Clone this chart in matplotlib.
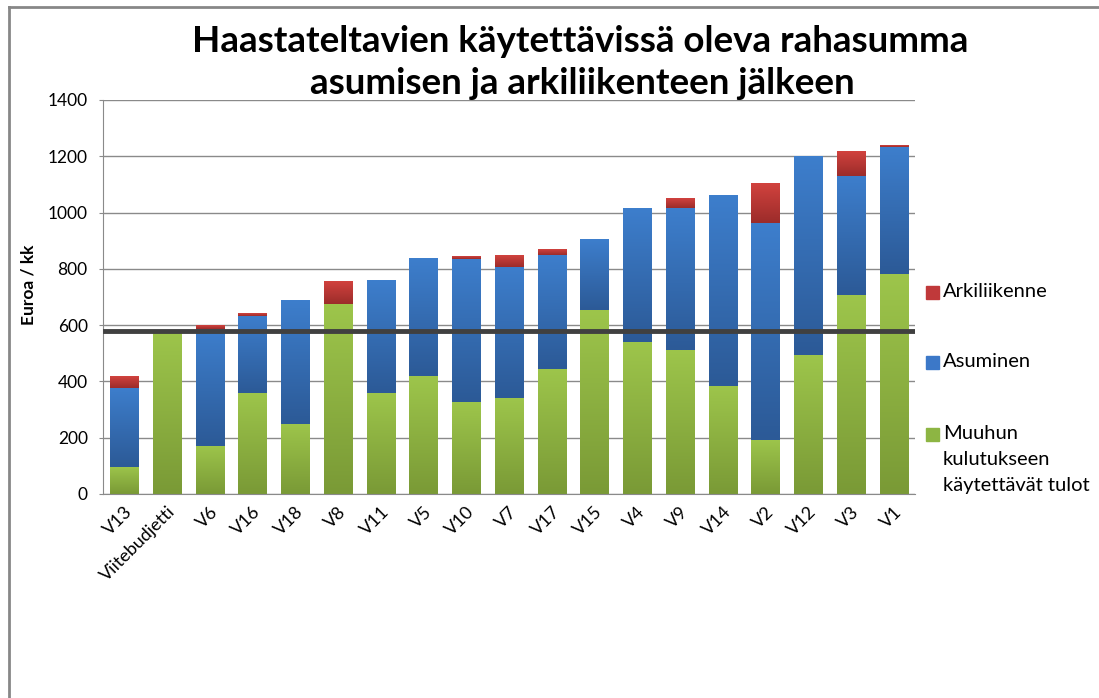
import numpy as np
import matplotlib
matplotlib.use("Agg")
import matplotlib.pyplot as plt
from matplotlib.colors import LinearSegmentedColormap
from matplotlib.lines import Line2D
from matplotlib.patches import Rectangle

plt.rcParams['font.family'] = ['Lato', 'DejaVu Sans']

# data (euroa / kk)
categories = ['V13', 'Viitebudjetti', 'V6', 'V16', 'V18', 'V8', 'V11', 'V5', 'V10', 'V7',
              'V17', 'V15', 'V4', 'V9', 'V14', 'V2', 'V12', 'V3', 'V1']
muu = [96, 577, 171, 359, 249, 674, 359, 419, 326, 340, 445, 655, 540, 512, 385, 192, 493, 707, 782]
asuminen = [282, 0, 415, 275, 439, 0, 400, 417, 510, 467, 403, 252, 475, 503, 678, 771, 706, 423, 450]
arkiliikenne = [41, 0, 13, 8, 0, 81, 0, 0, 10, 42, 18, 0, 0, 33, 0, 140, 0, 88, 5]
viitebudjetti = 580

series = [
    ('Muuhun\nkulutukseen\nkäytettävät tulot', muu, '#7a9a36', '#9dc54b', '#8db543'),
    ('Asuminen', asuminen, '#2c5a97', '#3d7ecc', '#3c78c8'),
    ('Arkiliikenne', arkiliikenne, '#9c2c2a', '#d1423e', '#c0393a'),
]

fig = plt.figure(figsize=(10.99, 6.98), dpi=100)
ax = fig.add_axes([103/1099, 1-494/698, (915-103)/1099, (494-100)/698])

x = np.arange(len(categories))
w = 0.66
grad = np.linspace(0, 1, 64).reshape(-1, 1)
bottom = np.zeros(len(categories))
for label, vals, dark, light, _ in series:
    cmap = LinearSegmentedColormap.from_list(label, [dark, light])
    vals = np.array(vals, dtype=float)
    for xi, b, v in zip(x, bottom, vals):
        if v <= 0:
            continue
        ax.imshow(grad, extent=[xi - w/2, xi + w/2, b, b + v], origin='lower',
                  aspect='auto', cmap=cmap, zorder=2, interpolation='bilinear')
    bottom += vals

ax.axhline(viitebudjetti, xmin=0.003, xmax=1, color='#404040', lw=3.5, zorder=4)

ax.set_xlim(-0.5, len(categories) - 0.5)
ax.set_ylim(0, 1400)
ax.set_yticks(range(0, 1401, 200))
ax.yaxis.grid(True, color='#8a8a8a', lw=1)
ax.set_axisbelow(True)
for s in ['top', 'right']:
    ax.spines[s].set_visible(False)
for s in ['left', 'bottom']:
    ax.spines[s].set_color('#8a8a8a')
ax.tick_params(axis='y', length=3, color='#8a8a8a', labelsize=12.5, pad=8)
ax.tick_params(axis='x', length=0, labelsize=13, pad=7)
ax.set_xticks(x)
ax.set_xticklabels(categories, rotation=45, ha='right', rotation_mode='anchor')
ax.set_ylabel('Euroa / kk', fontsize=12.5, fontweight='bold')
ax.yaxis.set_label_coords(-0.082, 0.53)

fig.text(580/1099, 1-41/698, 'Haastateltavien käytettävissä oleva rahasumma',
         ha='center', va='center', fontsize=26.5, fontweight='bold')
fig.text(582/1099, 1-84/698, 'asumisen ja arkiliikenteen jälkeen',
         ha='center', va='center', fontsize=26.5, fontweight='bold')

# legend, placed at the right like in the original
leg_y = {'Arkiliikenne': 292, 'Asuminen': 362, 'Muuhun\nkulutukseen\nkäytettävät tulot': 434}
for label, _, _, _, swatch in series:
    yc = leg_y[label]
    fig.patches.append(Rectangle((926/1099, 1-(yc+6.5)/698), 13/1099, 13/698,
                                 transform=fig.transFigure, color=swatch))
    fig.text(943/1099, 1-(yc-9)/698, label, ha='left', va='top', fontsize=14.5,
             linespacing=1.65)

# outer chart border
fig.add_artist(Line2D([9/1099, 9/1099], [0, 1-7/698], color='#878787', lw=2,
                      transform=fig.transFigure))
fig.add_artist(Line2D([9/1099, 1], [1-7/698, 1-7/698], color='#878787', lw=2,
                      transform=fig.transFigure))

fig.savefig('out.png', dpi=100)
